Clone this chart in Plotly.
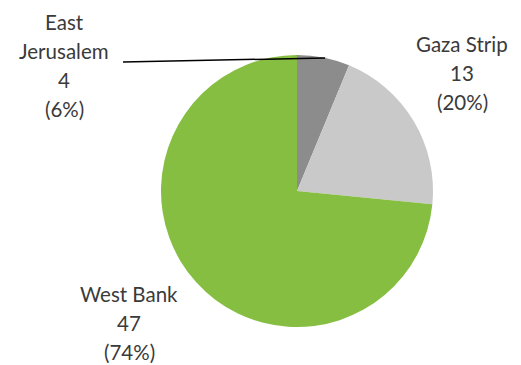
import plotly.graph_objects as go

# Regions and counts
regions = ["East Jerusalem", "Gaza Strip", "West Bank"]
counts = [4, 13, 47]
shares = ["6%", "20%", "74%"]
label_lines = [["East", "Jerusalem"], ["Gaza Strip"], ["West Bank"]]

colors = ["#8c8c8c", "#c9c9c9", "#85be41"]

W, H = 521, 365

def px_x(x):
    return x / W

def px_y(y):
    return 1 - y / H

# pie centre and radius in pixels
cx, cy, r = 297, 191, 136

fig = go.Figure(
    go.Pie(
        labels=regions,
        values=counts,
        sort=False,
        direction="clockwise",
        rotation=0,
        textinfo="none",
        hoverinfo="label+value+percent",
        marker=dict(colors=colors, line=dict(width=0)),
        domain=dict(x=[px_x(cx - r), px_x(cx + r)], y=[px_y(cy + r), px_y(cy - r)]),
        showlegend=False,
    )
)

# label block anchors: centre x and first-line y, with line pitch
label_pos = [(64, 22), (462, 44), (129, 294)]
pitch = 29
text_font = dict(family="Lato, sans-serif", size=20.5, color="#3a3a3a")

for lines, n, s, (x, y0) in zip(label_lines, counts, shares, label_pos):
    for i, line in enumerate(lines + [str(n), f"({s})"]):
        fig.add_annotation(
            x=px_x(x), y=px_y(y0 + i * pitch), xref="paper", yref="paper",
            text=line, showarrow=False, xanchor="center", yanchor="middle",
            font=text_font,
        )

# leader line for the East Jerusalem label
fig.add_shape(
    type="line", xref="paper", yref="paper",
    x0=px_x(123), y0=px_y(62), x1=px_x(325), y1=px_y(58),
    line=dict(color="#000000", width=1.5),
)

fig.update_layout(
    width=W, height=H,
    margin=dict(l=0, r=0, t=0, b=0),
    paper_bgcolor="white",
    plot_bgcolor="white",
)

fig.write_html("out.html")
